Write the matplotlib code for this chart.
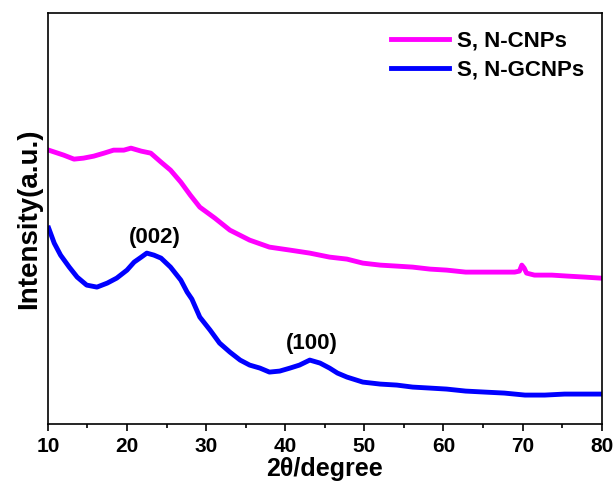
import matplotlib
matplotlib.use("Agg")
import matplotlib.pyplot as plt
from matplotlib.ticker import MultipleLocator

plt.rcParams["font.family"] = ["Liberation Sans", "DejaVu Sans"]
plt.rcParams["font.weight"] = "bold"

# XRD patterns, intensity in arbitrary units
two_theta_cnp = [10.1, 12.0, 13.3, 14.5, 15.8, 17.1, 18.3, 19.6, 20.5, 21.8, 23.0, 24.3,
                 25.5, 26.8, 28.0, 29.2, 31.1, 33.0, 35.5, 38.0, 40.6, 43.1, 45.6, 47.8,
                 49.8, 52.0, 54.1, 56.1, 58.3, 60.4, 62.8, 64.8, 66.9, 69.0, 69.6, 69.9,
                 70.2, 70.5, 71.5, 73.7, 75.7, 77.9, 79.8]
intensity_cnp = [274, 269, 265, 266, 268, 271, 274, 274, 276, 273, 271, 262,
                 254, 242, 229, 217, 206, 194, 184, 177, 174, 171, 167, 165,
                 161, 159, 158, 157, 155, 154, 152, 152, 152, 152, 153, 159,
                 156, 151, 149, 149, 148, 147, 146]

two_theta_gcnp = [10.1, 10.8, 11.6, 12.7, 13.7, 14.9, 16.2, 17.5, 18.7, 20.0, 20.9, 21.8,
                  22.5, 23.4, 24.3, 25.5, 26.8, 27.6, 28.2, 29.2, 30.5, 31.7, 33.0, 34.3,
                  35.5, 36.8, 38.0, 39.3, 40.6, 41.8, 43.1, 44.4, 45.6, 46.6, 47.8, 49.8,
                  52.0, 54.1, 56.1, 58.3, 60.4, 62.8, 65.2, 67.7, 70.3, 72.8, 75.3, 77.9,
                  79.8]
intensity_gcnp = [196, 181, 169, 157, 147, 139, 137, 141, 146, 154, 162, 167,
                  171, 169, 166, 157, 144, 132, 125, 107, 94, 81, 72, 64,
                  59, 56, 52, 53, 56, 59, 64, 61, 56, 51, 47, 42,
                  40, 39, 37, 36, 35, 33, 32, 31, 29, 29, 30, 30,
                  30]

fig = plt.figure(figsize=(6.14, 4.88), dpi=100)
ax = fig.add_axes([0.078, 0.131, 0.902, 0.842])

ax.plot(two_theta_cnp, intensity_cnp, color="#ff00ff", lw=3.5, label="S, N-CNPs")
ax.plot(two_theta_gcnp, intensity_gcnp, color="#0000ff", lw=3.5, label="S, N-GCNPs")

ax.text(23.5, 176, "(002)", ha="center", va="bottom", fontsize=16, fontweight="bold")
ax.text(43.4, 70, "(100)", ha="center", va="bottom", fontsize=16, fontweight="bold")

ax.set_xlim(10, 80)
ax.set_ylim(0, 411)
ax.xaxis.set_major_locator(MultipleLocator(10))
ax.xaxis.set_minor_locator(MultipleLocator(5))
ax.tick_params(axis="x", which="major", direction="out", length=5, width=1.2,
               labelsize=15, pad=4)
ax.tick_params(axis="x", which="minor", direction="out", length=3, width=1.2)
ax.set_yticks([])
for lbl in ax.get_xticklabels():
    lbl.set_fontweight("bold")
for sp in ax.spines.values():
    sp.set_linewidth(1.2)

ax.set_xlabel("2θ/degree", fontsize=18, fontweight="bold", labelpad=1)
ax.set_ylabel("Intensity(a.u.)", fontsize=20, fontweight="bold", labelpad=4)

ax.legend(loc="upper right", frameon=False, handlelength=2.6,
          handletextpad=0.35, labelspacing=0.35, borderaxespad=0.4,
          prop={"weight": "bold", "size": 16})

fig.savefig("out.png", dpi=100)
